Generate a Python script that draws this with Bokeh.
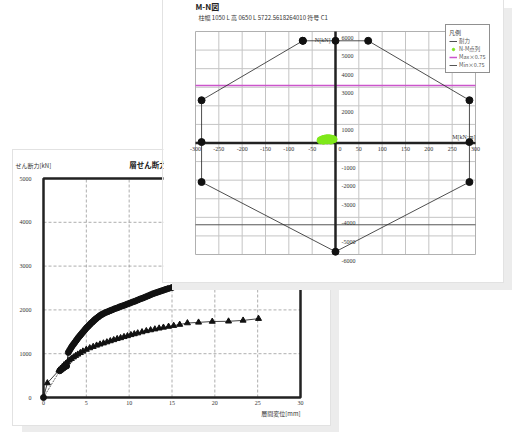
from bokeh.plotting import figure
from bokeh.layouts import column
from bokeh.models import Label, LabelSet, ColumnDataSource
from bokeh.embed import file_html
from bokeh.resources import INLINE
from bokeh.core.properties import value

JP = "Noto Sans CJK JP"
NUM = "Liberation Serif"

# ---------------- back chart data (shear force - drift) ----------------
D_LO, D_HI = 0, 30          # drift axis [mm]
V_LO, V_HI = 0, 5000        # shear axis [kN]
disp_ticks = [0, 5, 10, 15, 20, 25, 30]
disp_labels = ["0", "5", "10", "15", "20", "25", "30"]
shear_ticks = [0, 1000, 2000, 3000, 4000, 5000]
shear_labels = ["0", "1000", "2000", "3000", "4000", "5000"]
circ_x = [0, 1.9, 2.1, 2.3, 2.5, 2.7, 2.9, 3.05, 3.2, 3.35, 3.5, 3.65, 3.8, 3.95, 4.1, 4.25,
          4.4, 4.55, 4.7, 4.85, 5.0, 5.15, 5.3, 5.45, 5.6, 5.75, 5.9, 6.05, 6.2, 6.4, 6.6,
          6.8, 7.0, 7.25, 7.5, 7.75, 8.0, 8.3, 8.6, 8.9, 9.2, 9.5, 9.8, 10.1, 10.4, 10.7,
          11.0, 11.3, 11.6, 11.9, 12.2, 12.5, 12.8, 13.1, 13.4, 13.7, 14.0, 14.3, 14.6,
          15.0, 15.5, 16.0, 16.5, 17.0]
circ_y = [0, 610, 640, 670, 700, 720, 1030, 1080, 1130, 1175, 1215, 1255, 1295, 1335, 1375, 1410,
          1445, 1480, 1515, 1550, 1585, 1615, 1645, 1675, 1705, 1730, 1760, 1785, 1810, 1840, 1870,
          1895, 1915, 1940, 1960, 1980, 2000, 2025, 2045, 2070, 2090, 2110, 2135, 2155, 2180, 2200,
          2225, 2250, 2270, 2295, 2320, 2345, 2370, 2390, 2410, 2430, 2450, 2470, 2490,
          2510, 2540, 2565, 2590, 2615]
tri_x = [0, 0.45, 1.8, 2.0, 2.2, 2.4, 2.6, 2.8, 3.0, 3.25, 3.5, 3.75, 4.0, 4.3, 4.6, 5.0, 5.4,
         5.8, 6.2, 6.6, 7.0, 7.4, 7.8, 8.2, 8.6, 9.0, 9.4, 9.8, 10.2, 10.6, 11.0, 11.5, 12.0,
         12.5, 13.0, 13.5, 14.0, 14.6, 15.2, 15.9, 16.8, 18.1, 19.7, 21.6, 23.3, 25.1]
tri_y = [0, 330, 620, 660, 700, 740, 775, 810, 850, 885, 920, 955, 985, 1020, 1055, 1095, 1130,
         1160, 1190, 1215, 1240, 1265, 1290, 1315, 1340, 1360, 1385, 1405, 1430, 1450, 1470, 1495, 1520,
         1540, 1560, 1580, 1600, 1620, 1640, 1665, 1700, 1715, 1735, 1740, 1760, 1800]

# ---------------- front chart data (M-N diagram) ----------------
M_LO, M_HI = -300, 300      # moment axis [kN·m]
N_LO, N_HI = -6000, 6000    # axial axis [kN]
mn_M = [-70, 0, 70, 287, 287, 287, 0, -287, -287, -287, -70]
mn_N = [5500, 5500, 5500, 2300, 50, -2100, -5850, -2100, 50, 2300, 5500]
pts_M = [-32, -28, -24, -20, -16, -12, -8, -4, -26, -18, -10]
pts_N = [150, 200, 230, 250, 260, 250, 230, 200, 120, 140, 130]
max_line = 3100
min_line = -4400
m_ticks = [-300, -250, -200, -150, -100, -50, 50, 100, 150, 200, 250, 300]
m_labels = ["-300", "-250", "-200", "-150", "-100", "-50", "50", "100", "150", "200", "250", "300"]
n_ticks = [6000, 5000, 4000, 3000, 2000, 1000, -1000, -2000, -3000, -4000, -5000, -6000]
n_labels = ["6000", "5000", "4000", "3000", "2000", "1000", "-1000", "-2000", "-3000", "-4000", "-5000", "-6000"]
grid_m = [-250, -200, -150, -100, -50, 50, 100, 150, 200, 250]
grid_n = [-5000, -4000, -3000, -2000, -1000, 1000, 2000, 3000, 4000, 5000]


def padded(lo, hi, px_lo, px_hi, px_total):
    """range whose [lo, hi] part occupies the pixels between the two margins"""
    per_px = (hi - lo) / (px_total - px_lo - px_hi)
    return (lo - px_lo * per_px, hi + px_hi * per_px)


# ======================= back figure =======================
BW, BH = 317, 275
B = figure(width=BW, height=BH, x_range=padded(D_LO, D_HI, 30, 30, BW),
           y_range=padded(V_LO, V_HI, 28, 28, BH), min_border=0,
           x_axis_location=None, y_axis_location=None,
           toolbar_location=None, output_backend="svg")
B.grid.visible = False
B.outline_line_color = None
B.background_fill_color = "white"
B.border_fill_color = "white"

B.segment(x0=disp_ticks[1:-1], y0=V_LO, x1=disp_ticks[1:-1], y1=V_HI,
          line_color="#999999", line_dash="3 2", line_width=0.8)
B.segment(x0=D_LO, y0=shear_ticks[1:-1], x1=D_HI, y1=shear_ticks[1:-1],
          line_color="#999999", line_dash="3 2", line_width=0.8)
B.quad(left=D_LO, right=D_HI, bottom=V_LO, top=V_HI, fill_color=None,
       line_color="#222222", line_width=2.5)

B.line(circ_x[:2], circ_y[:2], line_color="#444444", line_width=0.8, line_dash="2 1")
B.line(circ_x[1:], circ_y[1:], line_color="#111111", line_width=1)
B.scatter(circ_x, circ_y, marker="circle", size=6, fill_color="#111111", line_color="#111111")
B.line(tri_x, tri_y, line_color="#111111", line_width=0.8)
B.scatter(tri_x[1:], tri_y[1:], marker="triangle", size=6, fill_color="#111111", line_color="#111111")

bx = ColumnDataSource(dict(x=disp_ticks, y=[V_LO] * len(disp_ticks), t=disp_labels))
B.add_layout(LabelSet(x="x", y="y", text="t", source=bx, y_offset=-3, text_align="center",
                      text_baseline="top", text_font=value(NUM), text_font_size=value("6px"),
                      text_color="#333333"))
by = ColumnDataSource(dict(x=[D_LO] * len(shear_ticks), y=shear_ticks, t=shear_labels))
B.add_layout(LabelSet(x="x", y="y", text="t", source=by, x_offset=-12, text_align="right",
                      text_baseline="middle", text_font=value(NUM), text_font_size=value("6px"),
                      text_color="#333333"))
B.add_layout(Label(x=(D_LO + D_HI) / 2, y=V_HI, y_offset=9, text="層せん断力-層間変位関係",
                   text_align="center", text_baseline="bottom", text_font=JP,
                   text_font_size="7.5px", text_font_style="bold", text_color="#222222"))
B.add_layout(Label(x=D_LO, y=V_HI, x_offset=-28, y_offset=9, text="せん断力[kN]",
                   text_baseline="bottom", text_font=JP, text_font_size="6px", text_color="#333333"))
B.add_layout(Label(x=D_HI, y=V_LO, y_offset=-11, text="層間変位[mm]", text_align="right",
                   text_baseline="top", text_font=JP, text_font_size="6px", text_color="#333333"))

# ======================= front figure =======================
FW, FH = 340, 282
F = figure(width=FW, height=FH, x_range=padded(M_LO, M_HI, 32, 28, FW),
           y_range=padded(N_LO, N_HI, 28, 31, FH), min_border=0,
           x_axis_location=None, y_axis_location=None,
           toolbar_location=None, output_backend="svg")
F.grid.visible = False
F.outline_line_color = None
F.background_fill_color = "white"
F.border_fill_color = "white"

F.segment(x0=grid_m, y0=N_LO, x1=grid_m, y1=N_HI, line_color="#c4c4c4", line_width=1)
F.segment(x0=M_LO, y0=grid_n, x1=M_HI, y1=grid_n, line_color="#c4c4c4", line_width=1)
F.quad(left=M_LO, right=M_HI, bottom=N_LO, top=N_HI, fill_color=None,
       line_color="#b0b0b0", line_width=1)

F.segment(x0=M_LO, y0=max_line, x1=M_HI, y1=max_line, line_color="#cc55cc", line_width=1.5,
          legend_label="Max×0.75")
F.segment(x0=M_LO, y0=min_line, x1=M_HI, y1=min_line, line_color="#555555", line_width=1,
          legend_label="Min×0.75")
F.segment(x0=0, y0=N_LO, x1=0, y1=N_HI, line_color="#222222", line_width=2.5)
F.segment(x0=M_LO, y0=0, x1=M_HI, y1=0, line_color="#222222", line_width=2.5)
F.line(mn_M, mn_N, line_color="#222222", line_width=0.8, legend_label="耐力")
F.scatter(mn_M, mn_N, marker="circle", size=7, fill_color="#111111", line_color="#111111")
F.scatter(pts_M, pts_N, marker="circle", size=7, fill_color="#7fe81a", line_color="#7fe81a",
          legend_label="N-M点列")

xs = ColumnDataSource(dict(x=m_ticks, y=[0] * len(m_ticks), t=m_labels))
F.add_layout(LabelSet(x="x", y="y", text="t", source=xs, y_offset=-4, text_align="center",
                      text_baseline="top", text_font=value(NUM), text_font_size=value("6px"),
                      text_color="#333333"))
ys = ColumnDataSource(dict(x=[0] * len(n_ticks), y=n_ticks, t=n_labels))
F.add_layout(LabelSet(x="x", y="y", text="t", source=ys, x_offset=6, y_offset=-4, text_align="left",
                      text_baseline="top", text_font=value(NUM), text_font_size=value("6px"),
                      text_color="#333333"))
F.add_layout(Label(x=0, y=0, x_offset=3, y_offset=-4, text="0", text_align="left", text_baseline="top",
                   text_font=NUM, text_font_size="6px", text_color="#333333"))
F.add_layout(Label(x=0, y=N_HI, x_offset=-5, y_offset=-5, text="N[kN]", text_align="right",
                   text_baseline="top", text_font=NUM, text_font_size="6px", text_color="#333333"))
F.add_layout(Label(x=M_HI, y=0, y_offset=3, text="M[kN·m]", text_align="right",
                   text_baseline="bottom", text_font=NUM, text_font_size="6px", text_color="#333333"))
F.add_layout(Label(x=M_LO, y=N_HI, y_offset=20, text="M-N図", text_baseline="bottom",
                   text_font=JP, text_font_size="8px", text_font_style="bold", text_color="#222222"))
F.add_layout(Label(x=M_LO, y=N_HI, x_offset=3, y_offset=10,
                   text="柱幅 1050 L 高 0650 L 5722.5618264010  符号 C1", text_baseline="bottom",
                   text_font=JP, text_font_size="6px", text_color="#333333"))

lg = F.legend[0]
lg.location = (282, 209)
lg.title = "凡例"
lg.title_text_font = JP
lg.title_text_font_size = "6px"
lg.title_text_font_style = "normal"
lg.title_standoff = 0
lg.label_text_font = JP
lg.label_text_font_size = "5.5px"
lg.label_text_color = "#555555"
lg.label_height = 6
lg.label_standoff = 2
lg.glyph_height = 6
lg.glyph_width = 8
lg.spacing = 0
lg.padding = 3
lg.margin = 0
lg.border_line_color = "#222222"
lg.border_line_width = 1.5
lg.background_fill_alpha = 1
lg.items = [lg.items[2], lg.items[3], lg.items[0], lg.items[1]]

B.styles = {"position": "absolute", "left": "13px", "top": "150px",
            "box-shadow": "9px 7px 0 #ececec", "outline": "1px solid #e2e2e2"}
F.styles = {"position": "absolute", "left": "163px", "top": "0px", "z-index": "2",
            "box-shadow": "9px 8px 0 #ececec", "outline": "1px solid #e2e2e2"}

p = column(B, F, width=504, height=424)
open("out.html", "w").write(file_html(p, INLINE))
